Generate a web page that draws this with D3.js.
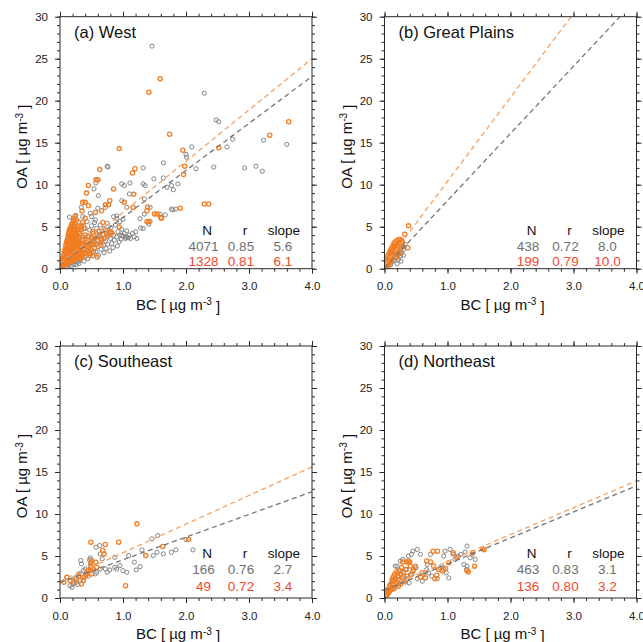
<!DOCTYPE html>
<html>
<head>
<meta charset="utf-8">
<script src="https://cdn.jsdelivr.net/npm/d3@7"></script>
<style>
  body { margin: 0; background: #fff; }
  text { font-family: "Liberation Sans", Arial, Helvetica, sans-serif; }
</style>
</head>
<body>
<svg id="chart" width="643" height="642"></svg>
<script>
// ---------------- data ----------------
const regionTitles = ["(a) West", "(b) Great Plains", "(c) Southeast", "(d) Northeast"];
const xTickValues = [0, 1, 2, 3, 4];
const yTickValues = [0, 5, 10, 15, 20, 25, 30];
const statHeaders = ["N", "r", "slope"];

// N, r and regression slope for [all samples, second subset]
const countN = [[4071, 1328], [438, 199], [166, 49], [463, 136]];
const corrR = [[0.85, 0.81], [0.72, 0.79], [0.76, 0.72], [0.83, 0.80]];
const slopes = [[5.6, 6.1], [8.0, 10.0], [2.7, 3.4], [3.1, 3.2]];
const intercepts = [[0.5, 0.6], [0.1, 0.4], [1.85, 2.0], [0.95, 1.15]];

// BC, OA pairs (µg m-3)
const westGray = [
  [0.02,0.1],[0.03,0.5],[0.04,0.2],[0.05,0.9],[0.06,0.3],[0.07,1.4],[0.08,0.5],[0.09,2.0],[0.10,0.3],[0.11,2.6],
  [0.12,0.6],[0.13,3.3],[0.14,0.4],[0.15,1.7],[0.16,0.7],[0.17,4.0],[0.18,0.4],[0.19,2.4],[0.20,0.8],[0.21,4.5],
  [0.22,0.5],[0.23,1.2],[0.24,0.9],[0.25,5.0],[0.26,0.5],[0.27,1.4],[0.28,0.8],[0.29,5.6],[0.30,0.6],[0.31,1.1],
  [0.32,1.0],[0.34,4.6],[0.35,1.9],[0.36,3.8],[0.37,5.2],[0.38,0.9],[0.38,2.8],[0.40,1.4],[0.40,4.8],[0.41,3.2],
  [0.42,2.2],[0.43,5.6],[0.44,1.2],[0.45,3.9],[0.46,2.6],[0.47,4.6],[0.48,1.8],[0.49,3.3],[0.50,5.1],[0.50,2.2],
  [0.52,1.5],[0.53,4.2],[0.54,2.9],[0.55,3.6],[0.56,5.8],[0.57,2.0],[0.58,4.8],[0.60,2.6],[0.60,3.9],[0.61,1.6],
  [0.62,4.4],[0.63,3.1],[0.64,5.2],[0.65,2.3],[0.66,3.6],[0.68,4.1],[0.69,2.8],[0.70,1.9],[0.70,4.8],[0.72,3.3],
  [0.73,2.4],[0.74,3.9],[0.75,5.4],[0.76,2.9],[0.78,4.3],[0.79,2.1],[0.80,3.6],[0.81,4.9],[0.82,3.0],[0.84,2.5],
  [0.85,4.0],[0.86,3.4],[0.88,5.2],[0.90,3.8],[0.91,2.7],[0.92,4.4],[0.94,3.2],[0.95,4.0],[0.97,3.5],[0.98,4.7],
  [1.00,3.9],[1.02,4.2],[1.04,3.6],[1.06,4.5],[1.08,3.7],[1.10,4.0],[1.12,3.6],[1.15,4.2],[1.18,3.8],[1.20,4.4],
  [1.22,3.6],[0.95,5.6],[1.00,5.9],[0.85,6.2],[0.90,6.0],[0.50,6.2],[0.55,5.5],[0.60,7.2],[0.48,6.6],[0.36,6.2],
  [1.46,26.5],[2.29,20.9],[2.48,17.7],[2.52,17.5],[2.09,14.5],[2.74,15.4],[2.65,14.5],[3.23,15.3],[3.60,14.8],
  [2.00,13.6],[2.01,13.3],[2.16,11.9],[2.44,12.1],[2.93,12.0],[3.11,12.2],[3.21,11.6],[1.32,12.0],[0.75,12.2],
  [0.76,12.1],[1.64,12.6],[1.64,10.8],[1.49,10.7],[1.32,10.1],[1.35,9.9],[1.11,10.2],[1.02,9.9],[1.87,10.1],
  [1.77,9.9],[1.70,9.7],[1.80,9.4],[1.10,8.9],[0.98,10.1],[0.61,8.7],[0.54,9.5],[0.57,10.2],[0.60,10.6],[0.34,7.3],
  [0.72,7.3],[0.98,8.1],[1.34,8.3],[1.79,7.0],[1.84,7.1],[1.77,7.1],[1.67,6.4],[1.59,6.5],[1.43,7.3],[1.34,6.5],
  [1.27,5.95],[1.06,7.3],[0.90,6.3],[1.43,5.63],[1.28,4.84],[1.32,4.8],[1.41,5.3],[1.08,3.7],[0.15,6.15],[0.25,6.35],
  [0.98,3.96],[1.05,3.76]
];
const westOrange = [
  [0.02,0.2],[0.02,0.5],[0.03,0.3],[0.03,0.8],[0.04,0.4],[0.04,1.0],[0.04,0.2],[0.05,0.6],[0.05,1.3],[0.05,0.3],
  [0.06,0.5],[0.06,0.9],[0.06,1.6],[0.07,0.4],[0.07,1.2],[0.07,2.0],[0.08,0.7],[0.08,1.5],[0.08,2.3],[0.09,0.5],
  [0.09,1.1],[0.09,1.9],[0.09,2.7],[0.10,0.8],[0.10,1.4],[0.10,2.2],[0.10,3.0],[0.11,0.6],[0.11,1.7],[0.11,2.5],
  [0.11,3.3],[0.12,1.0],[0.12,2.0],[0.12,2.8],[0.12,3.6],[0.13,0.7],[0.13,1.4],[0.13,2.4],[0.13,3.2],[0.13,4.0],
  [0.14,1.1],[0.14,1.8],[0.14,2.7],[0.14,3.5],[0.14,4.3],[0.15,0.8],[0.15,2.1],[0.15,3.0],[0.15,3.8],[0.15,4.6],
  [0.16,1.3],[0.16,2.4],[0.16,3.3],[0.16,4.1],[0.16,4.8],[0.17,0.9],[0.17,1.7],[0.17,2.7],[0.17,3.6],[0.17,4.4],
  [0.18,1.2],[0.18,2.0],[0.18,3.0],[0.18,3.9],[0.18,4.7],[0.18,5.2],[0.19,1.5],[0.19,2.3],[0.19,3.3],[0.19,4.2],
  [0.19,5.0],[0.20,1.0],[0.20,1.8],[0.20,2.6],[0.20,3.6],[0.20,4.5],[0.20,5.4],[0.21,1.3],[0.21,2.1],[0.21,2.9],
  [0.21,3.9],[0.21,4.8],[0.21,5.7],[0.22,1.6],[0.22,2.4],[0.22,3.2],[0.22,4.2],[0.22,5.1],[0.22,6.0],[0.23,1.1],
  [0.23,1.9],[0.23,2.7],[0.23,3.5],[0.23,4.5],[0.24,1.4],[0.24,2.2],[0.24,3.0],[0.24,3.8],[0.24,5.3],[0.24,6.2],
  [0.25,1.7],[0.25,2.5],[0.25,3.3],[0.25,4.1],[0.26,1.2],[0.26,2.0],[0.26,2.8],[0.26,3.6],[0.26,4.4],[0.26,5.8],
  [0.27,1.5],[0.27,2.3],[0.27,3.1],[0.27,3.9],[0.28,1.8],[0.28,2.6],[0.28,3.4],[0.28,4.7],[0.29,1.3],[0.29,2.1],
  [0.29,2.9],[0.30,1.6],[0.30,2.4],[0.30,3.2],[0.30,5.0],[0.31,1.9],[0.31,2.7],[0.32,1.4],[0.32,2.2],[0.33,3.0],
  [0.35,2.6],[0.38,1.8],[0.40,4.0],[0.42,3.4],[0.45,2.2],[0.50,3.0],[0.52,4.4],[0.55,2.5],[0.60,3.3],[0.62,4.5],
  [0.65,2.8],[0.68,5.5],[0.70,3.6],[0.36,5.5],[0.40,6.0],[0.38,4.8],
  [0.33,1.2],[0.34,2.0],[0.35,3.5],[0.36,1.5],[0.37,2.9],[0.39,2.3],[0.40,3.1],[0.41,1.9],[0.43,2.7],[0.44,3.8],
  [0.46,1.8],[0.47,3.2],[0.49,2.4],[0.51,3.6],[0.53,2.0],[0.54,3.2],[0.57,3.8],[0.58,2.9],[0.63,3.9],[0.66,3.4],
  [0.72,4.6],[0.76,3.9],[0.80,4.4],[0.32,4.2],[0.34,5.0],[0.31,3.6],[0.29,3.7],[0.30,4.4],
  [1.59,22.6],[1.41,21.0],[1.74,16.0],[0.94,14.3],[1.95,14.1],[2.52,14.4],[3.63,17.5],[3.33,15.9],[1.19,11.9],
  [1.15,11.4],[1.98,12.2],[1.96,11.2],[0.63,11.8],[0.57,10.6],[0.60,10.6],[0.45,9.9],[0.42,9.0],[0.85,9.5],
  [0.40,7.9],[0.36,7.9],[0.72,7.6],[0.77,7.6],[0.79,8.1],[1.17,8.85],[1.02,7.9],[2.29,7.7],[2.36,7.7],[1.91,7.2],
  [1.39,7.35],[1.38,6.9],[1.16,7.3],[1.50,6.5],[1.54,6.5],[1.60,6.1],[1.61,6.0],[1.38,5.6],[1.41,5.6],[0.56,6.7],
  [0.66,6.9],[0.35,6.86],[0.45,7.5],[0.94,4.95],[0.82,4.24],[0.50,3.76],[0.53,2.97],[0.59,1.38],[0.48,1.58],
  [0.45,2.5],[0.74,4.17]
];

const plainsGray = [
  [0.02,0.2],[0.04,0.5],[0.05,1.0],[0.06,0.3],[0.07,1.4],[0.08,0.7],[0.09,1.8],[0.10,0.5],[0.10,1.2],[0.11,2.1],
  [0.12,0.8],[0.13,1.6],[0.14,2.4],[0.15,1.0],[0.16,2.0],[0.17,2.7],[0.18,1.3],[0.19,2.3],[0.20,1.7],[0.21,2.6],
  [0.22,1.1],[0.23,2.0],[0.24,3.0],[0.25,1.5],[0.26,2.4],[0.27,1.9],[0.28,2.8],[0.29,3.1],[0.30,2.3],[0.31,2.6],
  [0.33,2.9],[0.26,0.9],[0.20,0.6],[0.30,1.6]
];
const plainsOrange = [
  [0.01,0.1],[0.02,0.4],[0.03,0.7],[0.04,1.1],[0.05,0.5],[0.05,1.5],[0.06,0.9],[0.07,1.8],[0.07,0.4],[0.08,1.3],
  [0.09,2.1],[0.09,0.8],[0.10,1.6],[0.11,2.4],[0.11,1.0],[0.12,1.9],[0.13,2.7],[0.13,1.3],[0.14,2.2],[0.15,3.0],
  [0.15,1.6],[0.16,2.5],[0.17,1.9],[0.17,3.2],[0.18,2.8],[0.19,2.2],[0.20,3.4],[0.21,2.6],[0.22,3.1],[0.23,2.3],
  [0.24,3.5],[0.25,2.9],[0.27,3.4],[0.28,3.2],[0.32,4.1],[0.38,5.1],[0.37,2.5],[0.20,1.4],[0.25,1.8]
];

const southeastGray = [
  [0.11,2.47],[0.16,1.47],[0.19,1.27],[0.21,1.67],[0.26,1.87],[0.32,2.07],[0.34,2.87],[0.37,3.26],[0.33,4.46],
  [0.34,4.06],[0.40,3.46],[0.43,3.26],[0.48,3.86],[0.47,4.54],[0.48,4.77],[0.53,3.46],[0.56,2.87],[0.58,3.06],
  [0.64,3.46],[0.57,6.05],[0.63,6.25],[0.64,5.25],[0.67,4.66],[0.72,3.46],[0.75,3.06],[0.79,3.34],[0.87,4.85],
  [0.87,3.66],[0.90,3.46],[1.00,3.26],[1.06,3.06],[1.09,5.05],[1.18,4.26],[1.21,3.34],[1.27,3.74],[1.30,5.73],
  [1.48,5.05],[1.54,5.45],[1.46,7.04],[1.55,7.44],[1.64,5.25],[1.77,5.45],[1.84,5.73],[2.11,5.73],[2.00,6.96],
  [0.95,3.86],[0.24,2.4],[0.28,1.6],[0.30,2.9],[0.45,2.6]
];
const southeastOrange = [
  [0.06,1.87],[0.11,2.47],[0.16,2.07],[0.22,1.87],[0.26,2.27],[0.34,1.67],[0.37,2.07],[0.38,2.47],[0.41,2.67],
  [0.43,2.94],[0.48,3.26],[0.49,3.66],[0.50,2.87],[0.49,6.65],[0.68,5.65],[0.70,5.25],[0.72,6.37],[0.57,4.26],
  [0.58,3.66],[0.50,4.50],[0.49,4.20],[0.93,6.65],[1.04,1.47],[1.22,8.83],[1.36,5.05],[1.63,6.13],[2.04,6.96],
  [0.30,2.6],[0.45,3.3]
];

const northeastGray = [
  [0.03,0.4],[0.05,1.0],[0.07,0.6],[0.09,1.6],[0.11,1.0],[0.13,2.0],[0.15,1.3],[0.17,2.4],[0.19,1.5],[0.21,2.9],
  [0.23,1.7],[0.25,3.2],[0.27,2.0],[0.30,2.6],[0.33,1.9],[0.36,2.3],[0.39,1.8],
  [0.25,4.39],[0.20,3.79],[0.17,3.79],[0.29,4.59],[0.45,5.58],[0.43,5.19],[0.52,5.78],[0.57,5.19],[0.73,5.19],
  [0.68,3.99],[0.52,2.31],[0.62,2.79],[0.67,3.39],[0.84,2.31],[0.88,3.59],[0.94,3.39],[0.94,4.99],[0.96,5.58],
  [1.04,5.78],[1.02,2.39],[1.12,4.59],[1.21,5.19],[1.28,5.46],[1.31,6.18],[1.26,3.99],[1.31,3.79],[1.30,3.39],
  [1.36,4.79],[1.39,5.19],[1.44,4.59],[0.41,2.79],[0.46,3.39],[0.50,3.59],[0.35,3.39],[0.38,4.99],[1.17,5.00],
  [1.09,5.20],[0.60,2.00],[0.75,2.60],[0.70,3.00],[0.98,3.00]
];
const northeastOrange = [
  [0.02,0.3],[0.03,0.6],[0.04,0.4],[0.05,0.9],[0.06,0.6],[0.07,1.2],[0.08,0.8],[0.09,1.5],[0.10,1.0],[0.11,1.8],
  [0.12,1.3],[0.12,2.2],[0.13,1.6],[0.14,2.5],[0.15,1.1],[0.15,2.0],[0.16,2.8],[0.17,1.5],[0.18,2.3],[0.19,3.1],
  [0.20,1.8],[0.21,2.6],[0.22,1.4],[0.23,3.3],[0.24,2.1],[0.25,2.9],[0.26,1.7],[0.27,3.6],[0.28,2.4],[0.30,3.1],
  [0.31,2.0],[0.29,4.3],[0.35,4.3],[0.38,4.4],[0.40,4.3],[0.41,3.8],[0.43,2.79],[0.49,3.79],[0.36,2.6],[0.33,3.4],
  [0.57,2.5],[0.65,2.4],[0.80,2.3],[0.83,2.7],[0.86,3.4],[0.77,5.58],[0.84,5.58],[0.67,4.4],[0.73,4.3],[0.78,3.8],
  [0.92,3.2],[0.97,3.5],[1.09,5.39],[1.15,4.79],[1.31,3.27],[1.33,3.1],[1.40,5.39],[1.43,3.79],[1.56,5.86],
  [1.58,5.75],[1.02,4.2],[0.60,3.0],[0.45,3.2]
];

const panelGray = [westGray, plainsGray, southeastGray, northeastGray];
const panelOrange = [westOrange, plainsOrange, southeastOrange, northeastOrange];

// ---------------- layout ----------------
const size = 252;
const lefts = [60, 384.5, 60, 384.5];
const tops = [16.7, 16.7, 346, 346];
const statRows = [[-38.7, -23, -7.3], [-38.7, -23, -7.3], [-45.3, -28.7, -12], [-45.3, -28.7, -12]];

const grayMark = "#858585", orangeMark = "#f27d22";
const grayLine = "#767676", orangeLine = "#f5a262";
const grayText = "#707070", redText = "#f0492c";

const svg = d3.select("#chart");
const x = d3.scaleLinear().domain([0, 4]).range([0, size]);
const y = d3.scaleLinear().domain([0, 30]).range([size, 0]);
const xMinor = d3.range(0, 4.001, 0.2);
const yMinor = d3.range(0, 30.001, 1);

regionTitles.forEach((title, i) => {
  const g = svg.append("g").attr("transform", `translate(${lefts[i]},${tops[i]})`);

  g.append("clipPath").attr("id", "clip" + i)
    .append("rect").attr("width", size).attr("height", size);

  // tick marks on all four sides
  const tickStyle = sel => {
    sel.select(".domain").remove();
    sel.selectAll("line").attr("stroke", "#2a2a2a");
    sel.selectAll("text").attr("fill", "#222").style("font-size", "11.5px");
  };
  g.append("g").attr("transform", `translate(0,${size})`)
    .call(d3.axisBottom(x).tickValues(xMinor).tickSize(3).tickFormat("")).call(tickStyle);
  g.append("g").attr("transform", `translate(0,${size})`)
    .call(d3.axisBottom(x).tickValues(xTickValues).tickSize(5).tickPadding(8.5)
      .tickFormat(d3.format(".1f"))).call(tickStyle);
  g.append("g").call(d3.axisTop(x).tickValues(xMinor).tickSize(3).tickFormat("")).call(tickStyle);
  g.append("g").call(d3.axisTop(x).tickValues(xTickValues).tickSize(5).tickFormat("")).call(tickStyle);

  g.append("g").call(d3.axisLeft(y).tickValues(yMinor).tickSize(3).tickFormat("")).call(tickStyle);
  g.append("g").call(d3.axisLeft(y).tickValues(yTickValues).tickSize(5).tickPadding(7)
    .tickFormat(d3.format("d"))).call(tickStyle);
  g.append("g").attr("transform", `translate(${size},0)`)
    .call(d3.axisRight(y).tickValues(yMinor).tickSize(3).tickFormat("")).call(tickStyle);
  g.append("g").attr("transform", `translate(${size},0)`)
    .call(d3.axisRight(y).tickValues(yTickValues).tickSize(5).tickFormat("")).call(tickStyle);

  const plot = g.append("g").attr("clip-path", `url(#clip${i})`);

  // scatter: full sample first, subset drawn on top
  plot.append("g").selectAll("circle").data(panelGray[i]).join("circle")
    .attr("cx", d => x(d[0])).attr("cy", d => y(d[1])).attr("r", 2.1)
    .attr("fill", "none").attr("stroke", grayMark).attr("stroke-width", 1);
  plot.append("g").selectAll("circle").data(panelOrange[i]).join("circle")
    .attr("cx", d => x(d[0])).attr("cy", d => y(d[1])).attr("r", 2.1)
    .attr("fill", "none").attr("stroke", orangeMark).attr("stroke-width", 1.3);

  // regression lines
  const fit = d3.line().x(d => x(d[0])).y(d => y(d[1]));
  [[grayLine, 0], [orangeLine, 1]].forEach(([col, k]) => {
    const pts = [0, 4].map(b => [b, intercepts[i][k] + slopes[i][k] * b]);
    plot.append("path").attr("d", fit(pts)).attr("fill", "none")
      .attr("stroke", col).attr("stroke-width", 1.3).attr("stroke-dasharray", "5,3.5");
  });

  // frame
  g.append("rect").attr("width", size).attr("height", size)
    .attr("fill", "none").attr("stroke", "#2a2a2a").attr("stroke-width", 1);

  // panel title
  g.append("text").attr("x", 14).attr("y", 15).attr("dy", "0.36em")
    .style("font-size", "16.5px").attr("fill", "#111").text(title);

  // statistics table
  const colHead = [147, 185, 224];
  const colVal = [143.5, 181, 223];
  const rows = statRows[i];
  statHeaders.forEach((h, c) => {
    g.append("text").attr("x", colHead[c]).attr("y", size + rows[0]).attr("dy", "0.36em")
      .attr("text-anchor", "middle").style("font-size", "13.5px").attr("fill", "#111").text(h);
  });
  [0, 1].forEach(k => {
    const vals = [countN[i][k], d3.format(".2f")(corrR[i][k]), d3.format(".1f")(slopes[i][k])];
    vals.forEach((v, c) => {
      g.append("text").attr("x", colVal[c]).attr("y", size + rows[k + 1]).attr("dy", "0.36em")
        .attr("text-anchor", "middle").style("font-size", "13.5px")
        .attr("fill", k === 0 ? grayText : redText).text(v);
    });
  });

  // axis titles
  const xt = g.append("text").attr("x", size / 2 - 8).attr("y", size + 35.7).attr("dy", "0.36em")
    .attr("text-anchor", "middle").style("font-size", "15px").attr("fill", "#111");
  xt.append("tspan").text("BC [ µg m");
  xt.append("tspan").attr("dy", "-0.45em").style("font-size", "10px").text("-3");
  xt.append("tspan").attr("dy", "0.45em").text(" ]");

  const yt = g.append("text")
    .attr("transform", `translate(-38.3,${size / 2 + 4}) rotate(-90)`).attr("dy", "0.36em")
    .attr("text-anchor", "middle").style("font-size", "15px").attr("fill", "#111");
  yt.append("tspan").text("OA [ µg m");
  yt.append("tspan").attr("dy", "-0.45em").style("font-size", "10px").text("-3");
  yt.append("tspan").attr("dy", "0.45em").text(" ]");
});
</script>
</body>
</html>
